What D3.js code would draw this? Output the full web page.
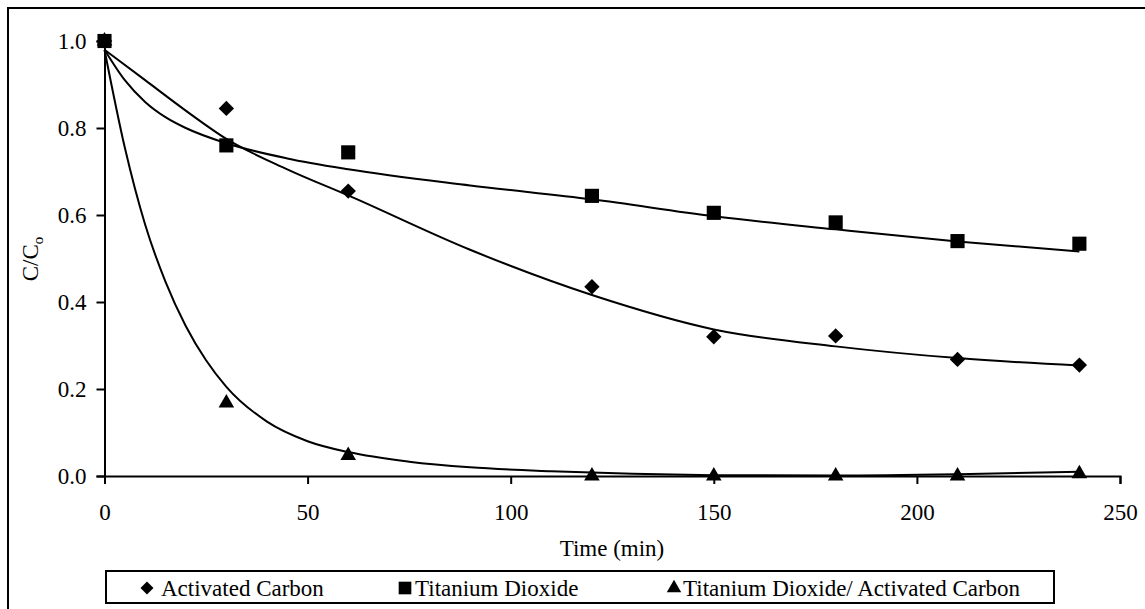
<!DOCTYPE html>
<html>
<head>
<meta charset="utf-8">
<script src="https://cdn.jsdelivr.net/npm/d3@7"></script>
<style>
  html, body { margin: 0; padding: 0; background: #fff; }
  svg { display: block; }
  text { font-family: "Liberation Serif", "Times New Roman", serif; fill: #000; }
</style>
</head>
<body>
<svg id="chart" width="1145" height="609"></svg>
<script>
// Sampling times (min)
const times = [0, 30, 60, 120, 150, 180, 210, 240];

// Measured C/Co values
const activatedCarbon = [1.0, 0.845, 0.655, 0.435, 0.32, 0.322, 0.268, 0.255];
const titaniumDioxide = [1.0, 0.76, 0.744, 0.644, 0.605, 0.583, 0.54, 0.534];
const tio2Carbon      = [1.0, 0.168, 0.047, 0.0, 0.0, 0.0, 0.0, 0.005];

// Trend line samples
const trendTimesAC = [0, 10, 20, 30, 45, 60, 90, 120, 150, 180, 210, 240];
const trendAC      = [0.98, 0.91, 0.84, 0.775, 0.705, 0.645, 0.52, 0.416, 0.337, 0.298, 0.271, 0.254];
const trendTimesTD = [0, 5, 10, 15, 20, 30, 45, 60, 90, 120, 150, 180, 210, 240];
const trendTD      = [0.98, 0.91, 0.86, 0.825, 0.80, 0.765, 0.73, 0.705, 0.668, 0.636, 0.597, 0.567, 0.539, 0.516];
const trendTimesTC = [0, 5, 10, 15, 20, 25, 30, 40, 50, 60, 75, 90, 110, 130, 150, 180, 210, 240];
const trendTC      = [0.98, 0.755, 0.578, 0.447, 0.345, 0.266, 0.205, 0.125, 0.08, 0.055, 0.033, 0.02, 0.011, 0.005, 0.002, 0.001, 0.004, 0.01];

const xTicks = [0, 50, 100, 150, 200, 250];
const yTicks = [0.0, 0.2, 0.4, 0.6, 0.8, 1.0];

const legendLabels = ["Activated Carbon", "Titanium Dioxide", "Titanium Dioxide/ Activated Carbon"];

const svg = d3.select("#chart");
const FS = 23;

// Outer frame
svg.append("rect")
  .attr("x", 8).attr("y", 8)
  .attr("width", 1160).attr("height", 620)
  .attr("fill", "none").attr("stroke", "#000").attr("stroke-width", 2);

const x = d3.scaleLinear().domain([0, 250]).range([104.5, 1120]);
const y = d3.scaleLinear().domain([0, 1]).range([476, 41]);

// Axes
const xAxis = svg.append("g")
  .attr("transform", `translate(0,${y(0)})`)
  .call(d3.axisBottom(x).tickValues(xTicks).tickSize(8).tickFormat(d3.format("d")));
xAxis.selectAll(".tick text").attr("y", 44).attr("dy", 0);

const yAxis = svg.append("g")
  .attr("transform", `translate(${x(0)},0)`)
  .call(d3.axisLeft(y).tickValues(yTicks).tickSize(8).tickPadding(10).tickFormat(d3.format(".1f")));

[xAxis, yAxis].forEach(g => {
  g.select(".domain").attr("stroke", "#000").attr("stroke-width", 2);
  g.selectAll(".tick line").attr("stroke", "#000").attr("stroke-width", 2);
  g.selectAll(".tick text")
    .attr("font-family", "Liberation Serif, Times New Roman, serif")
    .attr("font-size", FS).attr("fill", "#000");
});

// Axis titles
svg.append("text")
  .attr("x", 612).attr("y", 556)
  .attr("text-anchor", "middle")
  .attr("font-size", FS)
  .text("Time (min)");

const yTitle = svg.append("text")
  .attr("transform", "translate(38,259) rotate(-90)")
  .attr("text-anchor", "middle")
  .attr("font-size", FS);
yTitle.append("tspan").text("C/C");
yTitle.append("tspan").attr("font-size", FS * 0.65).attr("dy", 5).text("o");

// Trend lines
const line = d3.line().x(d => x(d[0])).y(d => y(d[1])).curve(d3.curveMonotoneX);
[[trendTimesAC, trendAC], [trendTimesTD, trendTD], [trendTimesTC, trendTC]].forEach(([ts, vs]) => {
  svg.append("path")
    .datum(ts.map((t, i) => [t, vs[i]]))
    .attr("d", line)
    .attr("fill", "none")
    .attr("stroke", "#000")
    .attr("stroke-width", 2);
});

// Markers
const diamond = d3.symbol().type(d3.symbolSquare).size(118);
const square = d3.symbol().type(d3.symbolSquare).size(200);
const triangle = d3.symbol().type(d3.symbolTriangle).size(105);

function drawSeries(vals, gen, rotate) {
  svg.append("g").selectAll("path")
    .data(times.map((t, i) => [t, vals[i]]))
    .join("path")
    .attr("d", gen)
    .attr("transform", d => `translate(${x(d[0])},${y(d[1])})${rotate ? " rotate(45)" : ""}`)
    .attr("fill", "#000");
}
drawSeries(activatedCarbon, diamond, true);
drawSeries(tio2Carbon, triangle, false);
drawSeries(titaniumDioxide, square, false);

// Legend
svg.append("rect")
  .attr("x", 106).attr("y", 571)
  .attr("width", 948).attr("height", 32)
  .attr("fill", "#fff").attr("stroke", "#000").attr("stroke-width", 2);

const legendItems = [
  { label: legendLabels[0], gen: d3.symbol().type(d3.symbolSquare).size(84), rotate: true, mx: 147, tx: 161 },
  { label: legendLabels[1], gen: d3.symbol().type(d3.symbolSquare).size(160), rotate: false, mx: 405, tx: 415 },
  { label: legendLabels[2], gen: d3.symbol().type(d3.symbolTriangle).size(90), rotate: false, mx: 674, tx: 683 }
];
legendItems.forEach(it => {
  svg.append("path")
    .attr("d", it.gen)
    .attr("transform", `translate(${it.mx},588)${it.rotate ? " rotate(45)" : ""}`)
    .attr("fill", "#000");
  svg.append("text")
    .attr("x", it.tx).attr("y", 596)
    .attr("font-size", FS)
    .text(it.label);
});
</script>
</body>
</html>
